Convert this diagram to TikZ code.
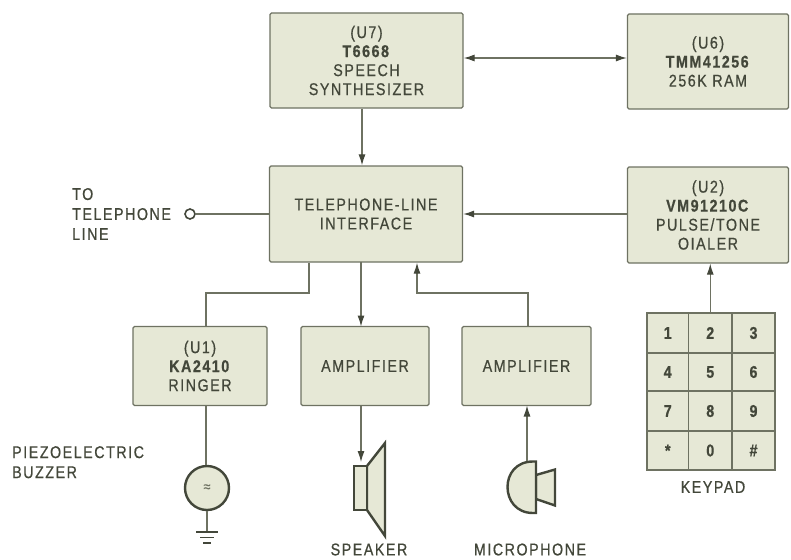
\documentclass[tikz,border=0pt]{standalone}
\usepackage{fontspec}
\setmainfont[LetterSpace=9,FakeStretch=0.84,FakeBold=0.6]{Liberation Sans}
\usetikzlibrary{arrows.meta}
\definecolor{ink}{HTML}{43473A}
\definecolor{wire}{HTML}{6E7262}
\definecolor{panel}{HTML}{E6E8D6}
\tikzset{
  blockbox/.style={draw=wire,fill=panel,line width=1.3pt,rounded corners=1.5pt,align=center,inner sep=0pt,text=ink,font=\fontsize{17}{19}\selectfont},
  keycell/.style={draw=wire,fill=panel,line width=1.5pt,inner sep=0pt,text=ink,font=\fontsize{17}{19}\selectfont\bfseries},
  caption/.style={text=ink,inner sep=0pt,align=left,font=\fontsize{17}{20}\selectfont},
  wireline/.style={draw=wire,line width=1.1pt},
  wirearrow/.style={wireline,-{Latex[length=11pt,width=7pt,color=ink]}},
  wirearrows/.style={wireline,{Latex[length=11pt,width=7pt,color=ink]}-{Latex[length=11pt,width=7pt,color=ink]}},
  device/.style={draw=ink,fill=panel,line width=2.4pt,line join=miter}
}
\newcommand{\blk}[6]{\node[blockbox,minimum width=#3pt,minimum height=#4pt] (#1) at (#2) {#5};}
\begin{document}
\begin{tikzpicture}[x=1pt,y=-1pt]
\useasboundingbox (0,0) rectangle (791,559);
\blk{u7}{366.5,60.5}{193}{95}{(U7)\\\textbf{T6668}\\SPEECH\\SYNTHESIZER}{}
\blk{u6}{708,61.5}{161}{95}{(U6)\\\textbf{TMM41256}\\256K RAM}{}
\blk{iface}{366,214}{193}{96}{TELEPHONE-LINE\\INTERFACE}{}
\blk{u2}{708,215}{161}{96}{(U2)\\\textbf{VM91210C}\\PULSE/TONE\\OIALER}{}
\blk{u1}{200,366}{134}{79}{(U1)\\\textbf{KA2410}\\RINGER}{}
\blk{amp1}{365,366}{128}{79}{AMPLIFIER}{}
\blk{amp2}{526.5,366}{129}{79}{AMPLIFIER}{}
% keypad
\foreach \n/\lab/\cx/\cy/\w/\h in {
 k1/1/667.75/333/41.5/40, k2/2/710.25/333/43.5/40, k3/3/753.5/333/43/40,
 k4/4/667.75/372/41.5/38, k5/5/710.25/372/43.5/38, k6/6/753.5/372/43/38,
 k7/7/667.75/411/41.5/40, k8/8/710.25/411/43.5/40, k9/9/753.5/411/43/40,
 ks/{*}/667.75/450.5/41.5/39, k0/0/710.25/450.5/43.5/39, kh/\#/753.5/450.5/43/39}{
  \node[keycell,minimum width=\w pt,minimum height=\h pt] (\n) at (\cx,\cy) {\lab};
}
\node[caption] (kcap) at (713,487) {KEYPAD};
% telephone terminal
\node[draw=ink,line width=1.6pt,circle,minimum size=10pt,inner sep=0pt] (term) at (190,214) {};
\node[caption,anchor=west] (tocap) at (72,214) {TO\\TELEPHONE\\LINE};
\draw[wireline] (term) -- (term -| iface.west);
% top connectors
\draw[wirearrows] (u7.east |- 0,58) -- (u6.west |- 0,58);
\draw[wirearrow] ([xshift=-4.5pt]u7.south) -- ([xshift=-4pt]iface.north);
\draw[wirearrow] (u2.west |- 0,214) -- (iface.east |- 0,214);
\draw[wirearrow] (k2.north) -- (k2.north |- u2.south);
% lower connectors
\coordinate (ja) at (309,293);
\coordinate (jb) at (417,293);
\draw[wireline] (ja |- iface.south) -- (ja) -- (206,293) -- (206,326.5);
\draw[wirearrow] (361,262) -- (361,326.5);
\draw[wireline,-{Latex[length=11pt,width=7pt,color=ink]}] (528,326.5) -- (528,293) -- (jb) -- (jb |- iface.south);
% buzzer
\node[device,circle,minimum size=44pt,inner sep=0pt,text=wire,font=\fontsize{15}{15}\selectfont] (buzz) at (207,488) {≈};
\draw[wireline] (206,405.5) -- (buzz.north -| 206,0);
\coordinate (gnd) at (207,532);
\draw[wireline] (buzz.south) -- (gnd);
\draw[draw=ink,line width=1.8pt] (196,532) -- (218,532) (200,537.5) -- (214,537.5) (203,543) -- (211,543);
% speaker
\draw[device] (367,466) -- (385,443) -- (385,536) -- (367,510) -- cycle;
\draw[device] (354,466) rectangle (367,510);
\coordinate (spk) at (361,462);
\draw[wirearrow] (361,405.5) -- (spk);
\node[caption] (spkcap) at (369,549.5) {SPEAKER};
% microphone
\draw[device] (536,475) -- (555,469.5) -- (555,505.5) -- (536,499) -- cycle;
\draw[device] (536,461.5) -- (536,513) -- (533,513) .. controls (516,513) and (507.5,500) .. (507.5,487) .. controls (507.5,474) and (516,461.5) .. (533,461.5) -- cycle;
\coordinate (mic) at (527,461);
\draw[wirearrow] (mic) -- (527,405.5);
\node[caption] (miccap) at (530,549.5) {MICROPHONE};
% buzzer caption
\node[caption,anchor=north west] (pcap) at (12,446) {PIEZOELECTRIC\\BUZZER};
\end{tikzpicture}
\end{document}
